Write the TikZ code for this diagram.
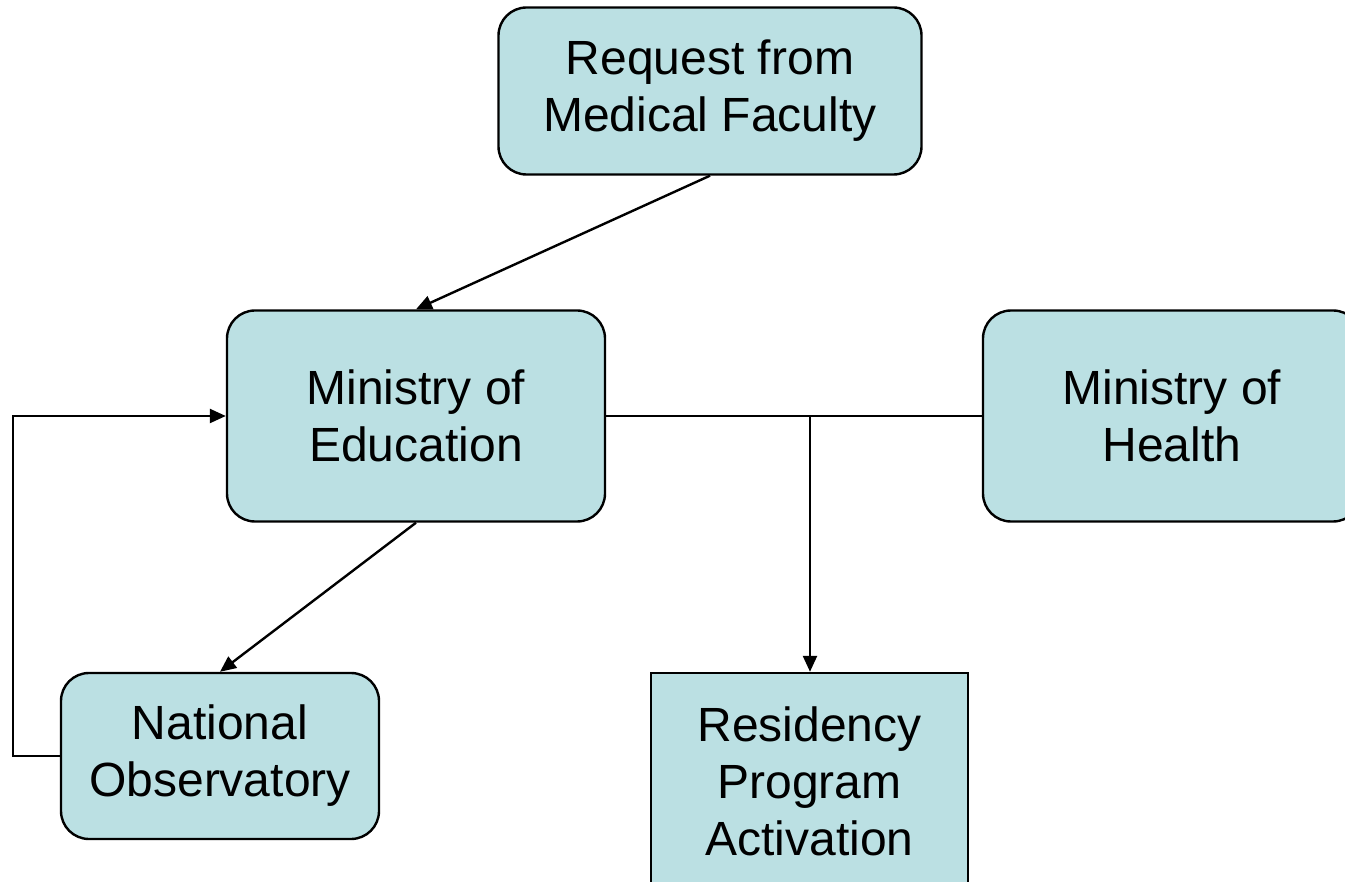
\documentclass[tikz,border=0pt]{standalone}
\usepackage{fontspec}
\setmainfont{Liberation Sans}
\usepackage{tikz}
\usetikzlibrary{arrows.meta}
\definecolor{boxfill}{RGB}{187,224,227}

\begin{document}
\begin{tikzpicture}[x=1pt,y=-1pt,
	box/.style={draw,line width=2.4pt,fill=boxfill,rounded corners=28pt,align=center,
		font=\fontsize{48}{57}\selectfont,inner sep=0pt},
	link/.style={line width=2.4pt,-{Triangle[length=16pt,width=14pt]}}]
	% Frame of the picture
	\useasboundingbox (0,0) rectangle (1345,882);
	\clip (0,0) rectangle (1345,882);
	% Boxes
	\node[box,minimum width=423pt,minimum height=167pt] (request) at (710,91) {Request from\\Medical Faculty};
	\node[box,minimum width=378pt,minimum height=211pt] (education) at (416,416) {Ministry of\\Education};
	\node[box,minimum width=378pt,minimum height=211pt] (health) at (1172,416) {Ministry of\\Health};
	\node[box,minimum width=318pt,minimum height=166pt] (observatory) at (220,756) {National\\Observatory};
	\node[box,rounded corners=0pt,minimum width=317pt,minimum height=216pt] (residency) at (809.5,781) {Residency\\Program\\Activation};
	% Connectors
	\coordinate (loop) at (13,416);
	\coordinate (split) at (810,416);
	\draw[link] (request.south) -- (education.north);
	\draw[link] (education.south) -- (observatory.north);
	\draw[link] (observatory.west) -| (loop) -- (education.west);
	\draw[line width=2.4pt] (education.east) -- (health.west);
	\draw[link] (split) -- (residency.north -| split);
\end{tikzpicture}
\end{document}
